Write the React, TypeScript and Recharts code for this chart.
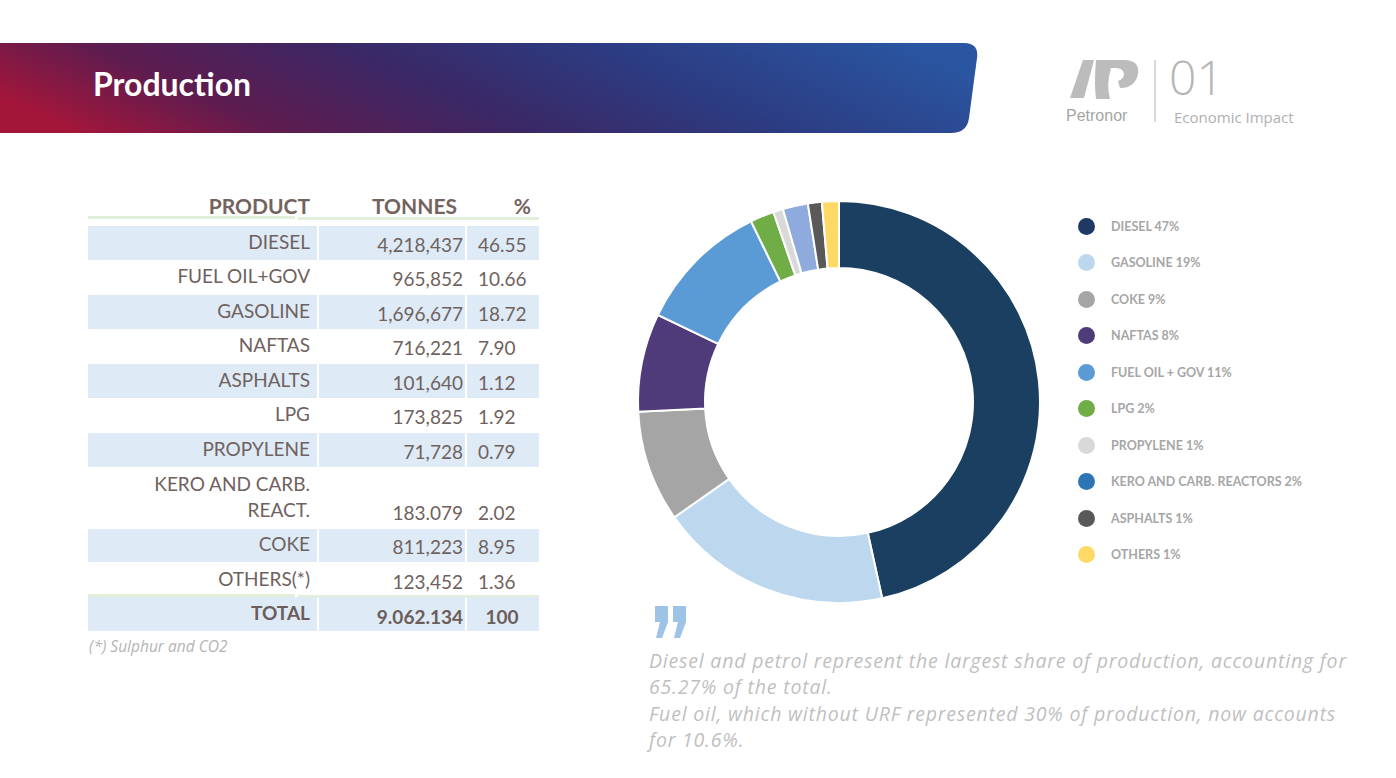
import React from "react";
import { PieChart, Pie, Cell, Legend } from "recharts";

const products = ["DIESEL", "FUEL OIL+GOV", "GASOLINE", "NAFTAS", "ASPHALTS", "LPG", "PROPYLENE", "KERO AND CARB.\nREACT.", "COKE", "OTHERS(*)"];
const tonnes = ["4,218,437", "965,852", "1,696,677", "716,221", "101,640", "173,825", "71,728", "183.079", "811,223", "123,452"];
const percents = ["46.55", "10.66", "18.72", "7.90", "1.12", "1.92", "0.79", "2.02", "8.95", "1.36"];

const sliceNames = ["DIESEL", "GASOLINE", "COKE", "NAFTAS", "FUEL OIL + GOV", "LPG", "PROPYLENE", "KERO AND CARB. REACTORS", "ASPHALTS", "OTHERS"];
const sliceValues = [46.55, 18.72, 8.95, 7.9, 10.66, 1.92, 0.79, 2.02, 1.12, 1.36];
const sliceColors = ["#1a3f60", "#bdd7ee", "#a5a5a5", "#4f3b7a", "#5b9bd5", "#70ad47", "#d9d9d9", "#8faadc", "#595959", "#ffd966"];

const legendLabels = ["DIESEL 47%", "GASOLINE 19%", "COKE 9%", "NAFTAS 8%", "FUEL OIL + GOV 11%", "LPG 2%", "PROPYLENE 1%", "KERO AND CARB. REACTORS 2%", "ASPHALTS 1%", "OTHERS 1%"];
const legendColors = ["#1f3864", "#bdd7ee", "#a5a5a5", "#4f3b7a", "#5b9bd5", "#70ad47", "#d9d9d9", "#2e75b6", "#595959", "#ffd966"];

const quoteLines = [
  "Diesel and petrol represent the largest share of production, accounting for",
  "65.27% of the total.",
  "Fuel oil, which without URF represented 30% of production, now accounts",
  "for 10.6%.",
];

const pieData = sliceNames.map((name, i) => ({ name, value: sliceValues[i] }));

const FONT = "Lato, 'Open Sans', sans-serif";
const TXT = "#6f625e";
const BAND = "#deebf7";

function LegendBox() {
  return (
    <div style={{ fontFamily: FONT }}>
      {legendLabels.map((l, i) => (
        <div key={l} style={{ display: "flex", alignItems: "center", height: 36.5 }}>
          <span style={{ width: 17, height: 17, borderRadius: "50%", background: legendColors[i], display: "inline-block" }} />
          <span style={{ marginLeft: 16, fontSize: 12.5, fontWeight: 700, color: "#a6a6a6", whiteSpace: "nowrap" }}>{l}</span>
        </div>
      ))}
    </div>
  );
}

function ProductTable() {
  // row tops / heights in page px
  let y = 226;
  const rows = products.map((p, i) => {
    const h = p.includes("\n") ? 61 : 34.5;
    const top = y;
    y += h;
    const band = (i % 2 === 0 && i !== 7) || i === 8 ? BAND : "transparent";
    return { p, i, top, h, band };
  });
  const cell = (left: number, width: number, top: number, h: number, bg: string) => (
    <div style={{ position: "absolute", left, width, top, height: h - 1, background: bg }} />
  );
  const head = { position: "absolute" as const, top: 193, textAlign: "right" as const, fontWeight: 700, fontSize: 21, color: "#73635d" };
  const bold = { position: "absolute" as const, fontSize: 19, fontWeight: 700, color: "#6b5d59" };
  return (
    <div style={{ position: "absolute", left: 0, top: 0, fontFamily: FONT, color: TXT }}>
      <div style={{ ...head, left: 88, width: 222 }}>PRODUCT</div>
      <div style={{ ...head, left: 320, width: 137 }}>TONNES</div>
      <div style={{ ...head, left: 466, width: 65 }}>%</div>
      <div style={{ position: "absolute", left: 88, width: 207, top: 216, height: 3, background: "#e2efda" }} />
      <div style={{ position: "absolute", left: 298, width: 241, top: 217, height: 3, background: "#e2efda" }} />
      {rows.map(({ p, i, top, h, band }) => (
        <React.Fragment key={p}>
          {cell(88, 229, top, h, band)}
          {cell(319, 146, top, h, band)}
          {cell(467, 72, top, h, band)}
          <div style={{ position: "absolute", left: 88, width: 222, top, height: h - 6, display: "flex", flexDirection: "column", justifyContent: "flex-end", alignItems: "flex-end", fontSize: 19, lineHeight: "26px", whiteSpace: "pre", textAlign: "right" }}>{p}</div>
          <div style={{ position: "absolute", left: 319, width: 144, top, height: h - 3, display: "flex", alignItems: "flex-end", justifyContent: "flex-end", fontSize: 19, lineHeight: "26px" }}>{tonnes[i]}</div>
          <div style={{ position: "absolute", left: 478, width: 70, top, height: h - 3, display: "flex", alignItems: "flex-end", justifyContent: "flex-start", fontSize: 19, lineHeight: "26px" }}>{percents[i]}</div>
        </React.Fragment>
      ))}
      <div style={{ position: "absolute", left: 88, width: 207, top: 594, height: 3, background: "#e2efda" }} />
      <div style={{ position: "absolute", left: 298, width: 241, top: 595, height: 3, background: "#e2efda" }} />
      {cell(88, 229, 597, 34.5, BAND)}
      {cell(319, 146, 597, 34.5, BAND)}
      {cell(467, 72, 597, 34.5, BAND)}
      <div style={{ ...bold, left: 88, width: 222, top: 601, textAlign: "right" }}>TOTAL</div>
      <div style={{ ...bold, left: 319, width: 144, top: 605, textAlign: "right" }}>9.062.134</div>
      <div style={{ ...bold, left: 452, width: 100, top: 605, textAlign: "center" }}>100</div>
      <div style={{ position: "absolute", left: 89, top: 635, fontFamily: "'Open Sans', sans-serif", fontSize: 15.5, fontStyle: "italic", color: "#b4b4b4", whiteSpace: "nowrap" }}>(*) Sulphur and CO2</div>
    </div>
  );
}

export default function App() {
  return (
    <div style={{ position: "absolute", left: 0, top: 0, width: 1396, height: 778, background: "#fff", overflow: "hidden", fontFamily: FONT }}>
      <svg width={1396} height={140} style={{ position: "absolute", left: 0, top: 0 }}>
        <defs>
          <linearGradient id="hdr" x1="0" y1="0.6" x2="1" y2="0.4">
            <stop offset="0" stopColor="#a3163a" />
            <stop offset="0.2" stopColor="#5e1c4f" />
            <stop offset="0.45" stopColor="#3a2866" />
            <stop offset="0.7" stopColor="#2c3c82" />
            <stop offset="1" stopColor="#2a55a0" />
          </linearGradient>
        </defs>
        <path d="M0,43 H964 Q979,43 977,58 L969,118 Q967,133 951,133 H0 Z" fill="url(#hdr)" />
        <text x={93} y={96} fill="#fff" fontSize={32} fontWeight={700} fontFamily={FONT}>Production</text>
        {/* logo */}
        <path d="M1083,60 L1094,60 L1084,98 L1070,98 Z" fill="#bcbcbc" />
        <path d="M1096,60 L1124,60 Q1140,60 1138,74 Q1135,88 1120,88 L1118,81 Q1124,79 1124,74 Q1123,68 1116,68 L1111,68 Q1106,84 1110,99 L1096,99 Q1094,84 1096,60 Z" fill="#bcbcbc" />
        <text x={1066} y={121} fill="#a5a5a5" fontSize={16} fontFamily="'Liberation Sans', Arial, sans-serif">Petronor</text>
        <line x1={1155} y1={60} x2={1155} y2={122} stroke="#cccccc" strokeWidth={1.5} />
        <text x={1169} y={95} fill="#b5b5b5" fontSize={48} fontWeight={300} fontFamily="'Open Sans', sans-serif">01</text>
        <text x={1174} y={123} fill="#b0b0b0" fontSize={15} fontFamily="'Open Sans', sans-serif">Economic Impact</text>
      </svg>

      <ProductTable />

      <div style={{ position: "absolute", left: 620, top: 180 }}>
        <PieChart width={760} height={440}>
          <Pie
            data={pieData}
            dataKey="value"
            nameKey="name"
            cx={214}
            cy={217}
            innerRadius={134}
            outerRadius={201}
            startAngle={90}
            endAngle={-270}
            stroke="#ffffff"
            strokeWidth={2}
            isAnimationActive={false}
          >
            {pieData.map((d, i) => (
              <Cell key={d.name} fill={sliceColors[i]} />
            ))}
          </Pie>
          <Legend
            layout="vertical"
            content={() => <LegendBox />}
            wrapperStyle={{ left: 458, top: 28, width: 300 }}
          />
        </PieChart>
      </div>

      <svg width={60} height={40} style={{ position: "absolute", left: 650, top: 602 }}>
        <path d="M5,4 H18 V20 L12,36 H6 L10,20 H5 Z" fill="#9dc3e6" />
        <path d="M23,4 H36 V20 L30,36 H24 L28,20 H23 Z" fill="#9dc3e6" />
      </svg>
      <div style={{ position: "absolute", left: 649, top: 648, fontFamily: "'Open Sans', sans-serif", fontStyle: "italic", fontSize: 19.5, letterSpacing: 0.8, color: "#bfbfbf", lineHeight: "26.4px", whiteSpace: "pre" }}>
        {quoteLines.map((l) => (
          <div key={l}>{l}</div>
        ))}
      </div>
    </div>
  );
}
